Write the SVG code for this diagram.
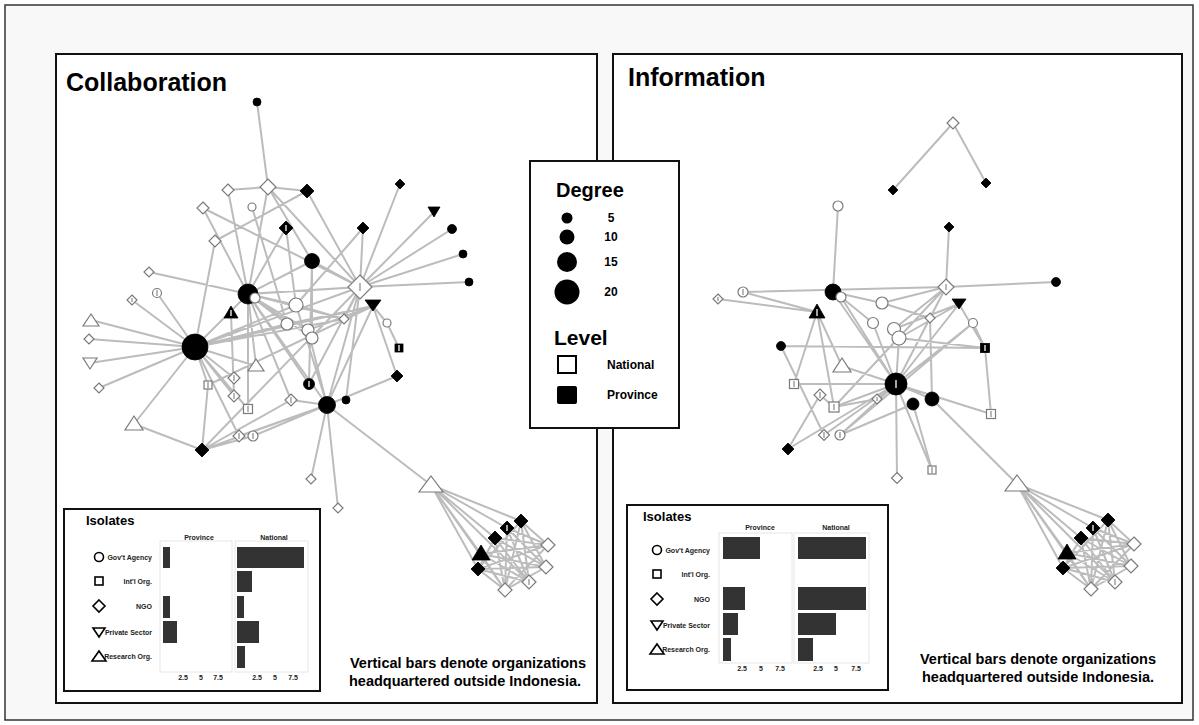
<svg xmlns="http://www.w3.org/2000/svg" width="1199" height="725" viewBox="0 0 1199 725">
<style>
.e{stroke:#bcbcbc;stroke-width:2;fill:none;stroke-linecap:round}
.w{fill:#fff;stroke:#7a7a7a;stroke-width:1.2}
.b{fill:#000;stroke:#000;stroke-width:0.8}
.hw{stroke:#888;stroke-width:1.2}
.hb{stroke:#fff;stroke-width:1.3}
.t{font-family:"Liberation Sans",Arial,sans-serif;font-weight:bold;fill:#000}
.lab{font-family:"Liberation Sans",Arial,sans-serif;font-weight:bold;fill:#222;font-size:7px}
.ic{fill:#fff;stroke:#000;stroke-width:1.6}
.bar{fill:#333}
.strip{fill:#fff;stroke:#e6e6e6;stroke-width:1}
.panel{fill:#fff;stroke:#111;stroke-width:2}
</style>
<rect x="5" y="5" width="1188" height="715" fill="#f8f8f8" stroke="#333" stroke-width="1.5"/>
<rect class="panel" x="56" y="54" width="541" height="649"/>
<rect class="panel" x="613" y="54" width="569" height="649"/>
<text class="t" x="66" y="91" font-size="25">Collaboration</text>
<text class="t" x="628" y="86" font-size="25">Information</text>

<g id="connectors">
<!-- left network -->
<path class="e" d="M257,102L268,187M268,187L228,190M268,187L307,191M268,187L248,294M268,187L312,261M268,187L360,287M228,190L248,294M307,191L215,241M307,191L360,287M203,208L360,287M203,208L248,294M252,207L287,324M286,228L248,294M286,228L296,305M215,241L195,347M400,184L360,287M434,212L360,287M452,229L360,287M463,254L360,287M469,282L360,287M363,228L360,287M363,228L296,305M312,261L248,294M312,261L312,338M312,261L309,384M312,261L360,287M149,272L248,294M157,293L195,347M132,300L195,347M91,320L195,347M89,339L195,347M90,363L195,347M99,388L195,347M134,424L195,347M195,347L248,294M195,347L296,305M195,347L373,306M195,347L344,319M195,347L287,324M195,347L256,366M195,347L234,378M195,347L234,396M195,347L248,409M195,347L239,436M195,347L360,287M195,347L208,385M248,294L296,305M248,294L287,324M248,294L308,330M248,294L312,338M248,294L309,384M248,294L327,405M248,294L256,366M248,294L291,400M248,294L248,409M248,294L344,319M248,294L360,287M231,313L234,396M373,306L387,323M373,306L397,376M373,306L327,405M373,306L208,385M387,323L399,348M360,287L327,405M360,287L344,319M360,287L309,384M360,287L202,450M327,405L311,479M327,405L338,508M327,405L431,485M327,405L397,376M327,405L291,400M327,405L202,450M327,405L239,436M327,405L253,436M327,405L296,305M327,405L308,330M202,450L208,385M202,450L134,424M202,450L291,400M202,450L253,436M346,400L360,287M296,305L344,319M308,330L373,306M287,324L373,306"/>
<!-- left cluster -->
<path class="e" d="M431,485L521,521M431,485L507,528M431,485L495,538M431,485L481,554M431,485L478,569M431,485L505,590M431,485L529,582M521,521L548,545M521,521L546,567M521,521L529,582M521,521L505,590M507,528L548,545M507,528L546,567M507,528L529,582M507,528L505,590M495,538L548,545M495,538L546,567M495,538L529,582M495,538L505,590M481,554L548,545M481,554L546,567M481,554L529,582M481,554L505,590M478,569L548,545M478,569L546,567M478,569L529,582M478,569L505,590M521,521L478,569M495,538L478,569M548,545L505,590M546,567L505,590"/>
<!-- right network -->
<path class="e" d="M953,123L893,190M953,123L986,183M838,206L833,292M949,227L946,287M946,287L1056,282M743,292L946,287M718,299L817,312M743,292L817,312M833,292L882,303M833,292L896,384M841,297L896,384M841,297L873,323M946,287L930,318M946,287L894,329M946,287L896,384M946,287L882,303M946,287L834,407M959,304L985,348M985,348L991,414M781,346L985,348M781,346L824,435M817,312L794,384M817,312L834,407M817,312L842,366M794,384L896,384M788,449L820,395M788,449L896,384M824,435L896,384M840,435L896,384M840,435L913,404M896,384L897,478M896,384L932,470M896,384L932,399M896,384L991,414M896,384L973,323M896,384L959,304M896,384L930,318M896,384L899,338M896,384L873,323M896,384L842,366M896,384L877,399M896,384L834,407M932,399L1017,484M913,404L932,470M930,318L932,399M899,338L959,304M894,329L959,304M973,323L840,435M973,323L985,348M882,303L930,318M899,338L985,348M820,395L834,407M834,407L877,399"/>
<!-- right cluster -->
<path class="e" d="M1017,484L1108,520M1017,484L1093,528M1017,484L1081,538M1017,484L1067,553M1017,484L1063,568M1017,484L1091,589M1017,484L1115,582M1108,520L1134,544M1108,520L1131,566M1108,520L1115,582M1108,520L1091,589M1093,528L1134,544M1093,528L1131,566M1093,528L1115,582M1093,528L1091,589M1081,538L1134,544M1081,538L1131,566M1081,538L1115,582M1081,538L1091,589M1067,553L1134,544M1067,553L1131,566M1067,553L1115,582M1067,553L1091,589M1063,568L1134,544M1063,568L1131,566M1063,568L1115,582M1063,568L1091,589M1108,520L1063,568M1081,538L1063,568M1134,544L1091,589M1131,566L1091,589"/>
</g>

<!-- left nodes -->
<g id="L1"><circle class="b" cx="257" cy="102" r="4"/></g>
<g id="L2"><polygon class="w" points="268,179 276,187 268,195 260,187"/></g>
<g id="L3"><polygon class="w" points="228,184 234,190 228,196 222,190"/></g>
<g id="L4"><polygon class="b" points="307,184 314,191 307,198 300,191"/></g>
<g id="L5"><polygon class="w" points="203,202 209,208 203,214 197,208"/></g>
<g id="L6"><circle class="w" cx="252" cy="207" r="4"/></g>
<g id="L7"><polygon class="b" points="286,221 293,228 286,235 279,228"/><line class="hb" x1="286" y1="225" x2="286" y2="231"/></g>
<g id="L8"><polygon class="w" points="215,235 221,241 215,247 209,241"/></g>
<g id="L9"><polygon class="b" points="400,179 405,184 400,189 395,184"/></g>
<g id="L10"><polygon class="b" points="428,207 440,207 434,217"/></g>
<g id="L11"><circle class="b" cx="452" cy="229" r="4.5"/></g>
<g id="L12"><polygon class="b" points="363,222 369,228 363,234 357,228"/></g>
<g id="L13"><circle class="b" cx="463" cy="254" r="4"/></g>
<g id="L14"><circle class="b" cx="312" cy="261" r="7.5"/></g>
<g id="L15"><polygon class="w" points="149,267 154,272 149,277 144,272"/></g>
<g id="L16"><circle class="b" cx="469" cy="282" r="4"/></g>
<g id="L17"><polygon class="w" points="360,275 372,287 360,299 348,287"/><line class="hw" x1="360" y1="283" x2="360" y2="291"/></g>
<g id="L18"><circle class="w" cx="157" cy="293" r="4.5"/><line class="hw" x1="157" y1="290" x2="157" y2="296"/></g>
<g id="L19"><polygon class="w" points="132,295 137,300 132,305 127,300"/><line class="hw" x1="132" y1="298" x2="132" y2="302"/></g>
<g id="L20"><circle class="b" cx="248" cy="294" r="10"/></g>
<g id="L21"><circle class="w" cx="255" cy="298" r="5"/></g>
<g id="L22"><circle class="w" cx="296" cy="305" r="7"/></g>
<g id="L23"><polygon class="b" points="231,306 238,318 224,318"/><line class="hb" x1="231" y1="310" x2="231" y2="316"/></g>
<g id="L24"><polygon class="b" points="365,300 381,300 373,311"/></g>
<g id="L25"><polygon class="w" points="344,314 349,319 344,324 339,319"/></g>
<g id="L26"><circle class="w" cx="387" cy="323" r="4"/></g>
<g id="L27"><circle class="w" cx="287" cy="324" r="6"/></g>
<g id="L28"><circle class="w" cx="308" cy="330" r="6"/></g>
<g id="L29"><circle class="w" cx="312" cy="338" r="6"/></g>
<g id="L30"><rect class="b" x="395" y="344" width="8" height="8"/><line class="hb" x1="399" y1="345" x2="399" y2="351"/></g>
<g id="L31"><polygon class="w" points="91,314 99,326 83,326"/></g>
<g id="L32"><polygon class="w" points="89,334 94,339 89,344 84,339"/></g>
<g id="L33"><polygon class="w" points="83,358 97,358 90,369"/></g>
<g id="L34"><polygon class="w" points="99,383 104,388 99,393 94,388"/></g>
<g id="L35"><circle class="b" cx="195" cy="347" r="13"/></g>
<g id="L36"><polygon class="w" points="256,359 264,371 248,371"/></g>
<g id="L37"><rect class="w" x="204" y="381" width="8" height="8"/><line class="hw" x1="208" y1="382" x2="208" y2="388"/></g>
<g id="L38"><polygon class="w" points="234,372 240,378 234,384 228,378"/><line class="hw" x1="234" y1="375" x2="234" y2="381"/></g>
<g id="L39"><circle class="b" cx="309" cy="384" r="5.5"/><line class="hb" x1="309" y1="381" x2="309" y2="387"/></g>
<g id="L40"><polygon class="b" points="397,370 403,376 397,382 391,376"/></g>
<g id="L41"><polygon class="w" points="234,390 240,396 234,402 228,396"/><line class="hw" x1="234" y1="393" x2="234" y2="399"/></g>
<g id="L42"><rect class="w" x="243.5" y="404.5" width="9" height="9"/><line class="hw" x1="248" y1="406" x2="248" y2="412"/></g>
<g id="L43"><polygon class="w" points="291,394 297,400 291,406 285,400"/><line class="hw" x1="291" y1="397" x2="291" y2="403"/></g>
<g id="L44"><circle class="b" cx="327" cy="405" r="8.5"/></g>
<g id="L45"><circle class="b" cx="346" cy="400" r="4"/></g>
<g id="L46"><polygon class="w" points="134,416 143,430 125,430"/></g>
<g id="L47"><polygon class="b" points="202,443 209,450 202,457 195,450"/></g>
<g id="L48"><polygon class="w" points="239,430 245,436 239,442 233,436"/><line class="hw" x1="239" y1="433" x2="239" y2="439"/></g>
<g id="L49"><circle class="w" cx="253" cy="436" r="5"/><line class="hw" x1="253" y1="433" x2="253" y2="439"/></g>
<g id="L50"><polygon class="w" points="311,474 316,479 311,484 306,479"/></g>
<g id="L51"><polygon class="w" points="338,503 343,508 338,513 333,508"/></g>
<g id="L52"><polygon class="w" points="431,476 443,492 419,492"/></g>
<g id="LC1"><polygon class="b" points="521,514 528,521 521,528 514,521"/></g>
<g id="LC2"><polygon class="b" points="507,521 514,528 507,535 500,528"/><line class="hb" x1="507" y1="525" x2="507" y2="531"/></g>
<g id="LC3"><polygon class="b" points="495,531 502,538 495,545 488,538"/></g>
<g id="LC4"><polygon class="w" points="548,538 555,545 548,552 541,545"/></g>
<g id="LC5"><polygon class="b" points="481,545 490,560 472,560"/></g>
<g id="LC6"><polygon class="b" points="478,562 485,569 478,576 471,569"/></g>
<g id="LC7"><polygon class="w" points="546,560 553,567 546,574 539,567"/></g>
<g id="LC8"><polygon class="w" points="529,575 536,582 529,589 522,582"/><line class="hw" x1="529" y1="579" x2="529" y2="585"/></g>
<g id="LC9"><polygon class="w" points="505,583 512,590 505,597 498,590"/></g>

<!-- right nodes -->
<g id="R1"><polygon class="w" points="953,117 959,123 953,129 947,123"/></g>
<g id="R2"><polygon class="b" points="893,185 898,190 893,195 888,190"/></g>
<g id="R3"><polygon class="b" points="986,178 991,183 986,188 981,183"/></g>
<g id="R4"><circle class="w" cx="838" cy="206" r="5"/></g>
<g id="R5"><polygon class="b" points="949,222 954,227 949,232 944,227"/></g>
<g id="R6"><polygon class="w" points="946,279 954,287 946,295 938,287"/><line class="hw" x1="946" y1="284" x2="946" y2="290"/></g>
<g id="R7"><circle class="b" cx="1056" cy="282" r="4.5"/></g>
<g id="R8"><polygon class="w" points="718,294 723,299 718,304 713,299"/><line class="hw" x1="718" y1="297" x2="718" y2="301"/></g>
<g id="R9"><circle class="w" cx="743" cy="292" r="5"/><line class="hw" x1="743" y1="289" x2="743" y2="295"/></g>
<g id="R10"><circle class="b" cx="833" cy="292" r="8"/></g>
<g id="R11"><circle class="w" cx="841" cy="297" r="5"/></g>
<g id="R12"><circle class="w" cx="882" cy="303" r="6"/></g>
<g id="R13"><polygon class="b" points="952,299 966,299 959,309"/></g>
<g id="R14"><polygon class="b" points="817,304 825,318 809,318"/><line class="hb" x1="817" y1="309" x2="817" y2="316"/></g>
<g id="R15"><polygon class="w" points="930,313 935,318 930,323 925,318"/></g>
<g id="R16"><circle class="w" cx="973" cy="323" r="4.5"/></g>
<g id="R17"><circle class="w" cx="873" cy="323" r="5.5"/></g>
<g id="R18"><circle class="w" cx="894" cy="329" r="6.5"/></g>
<g id="R19"><circle class="w" cx="899" cy="338" r="7"/></g>
<g id="R20"><circle class="b" cx="781" cy="346" r="4.5"/></g>
<g id="R21"><rect class="b" x="980.5" y="343.5" width="9" height="9"/><line class="hb" x1="985" y1="345" x2="985" y2="351"/></g>
<g id="R22"><polygon class="w" points="842,358 851,372 833,372"/></g>
<g id="R23"><circle class="b" cx="896" cy="384" r="11"/><line class="hb" x1="896" y1="380" x2="896" y2="388"/></g>
<g id="R24"><rect class="w" x="789.5" y="379.5" width="9" height="9"/><line class="hw" x1="794" y1="381" x2="794" y2="387"/></g>
<g id="R25"><polygon class="w" points="820,389 826,395 820,401 814,395"/><line class="hw" x1="820" y1="392" x2="820" y2="398"/></g>
<g id="R26"><rect class="w" x="829" y="402" width="10" height="10"/><line class="hw" x1="834" y1="404" x2="834" y2="410"/></g>
<g id="R27"><polygon class="w" points="877,394 882,399 877,404 872,399"/><line class="hw" x1="877" y1="397" x2="877" y2="401"/></g>
<g id="R28"><circle class="b" cx="913" cy="404" r="6"/></g>
<g id="R29"><circle class="b" cx="932" cy="399" r="7"/></g>
<g id="R30"><rect class="w" x="986.5" y="409.5" width="9" height="9"/><line class="hw" x1="991" y1="411" x2="991" y2="417"/></g>
<g id="R31"><polygon class="w" points="824,429.5 829.5,435 824,440.5 818.5,435"/><line class="hw" x1="824" y1="432" x2="824" y2="438"/></g>
<g id="R32"><circle class="w" cx="840" cy="435" r="5"/><line class="hw" x1="840" y1="432" x2="840" y2="438"/></g>
<g id="R33"><polygon class="b" points="788,443 794,449 788,455 782,449"/></g>
<g id="R34"><rect class="w" x="928" y="466" width="8" height="8"/><line class="hw" x1="932" y1="467" x2="932" y2="473"/></g>
<g id="R35"><polygon class="w" points="897,472.5 902.5,478 897,483.5 891.5,478"/></g>
<g id="R36"><polygon class="w" points="1017,475 1029,491 1005,491"/></g>
<g id="RC1"><polygon class="b" points="1108,513 1115,520 1108,527 1101,520"/></g>
<g id="RC2"><polygon class="b" points="1093,521 1100,528 1093,535 1086,528"/><line class="hb" x1="1093" y1="525" x2="1093" y2="531"/></g>
<g id="RC3"><polygon class="b" points="1081,531 1088,538 1081,545 1074,538"/></g>
<g id="RC4"><polygon class="w" points="1134,537 1141,544 1134,551 1127,544"/></g>
<g id="RC5"><polygon class="b" points="1067,544 1076,559 1058,559"/></g>
<g id="RC6"><polygon class="b" points="1063,561 1070,568 1063,575 1056,568"/></g>
<g id="RC7"><polygon class="w" points="1131,559 1138,566 1131,573 1124,566"/></g>
<g id="RC8"><polygon class="w" points="1115,575 1122,582 1115,589 1108,582"/><line class="hw" x1="1115" y1="579" x2="1115" y2="585"/></g>
<g id="RC9"><polygon class="w" points="1091,582 1098,589 1091,596 1084,589"/></g>

<!-- legend -->
<g id="legend">
<rect x="530" y="161" width="149" height="267" fill="#fff" stroke="#111" stroke-width="2"/>
<text class="t" x="556" y="197" font-size="20">Degree</text>
<circle cx="567" cy="218" r="5.5" fill="#000"/>
<circle cx="567" cy="237" r="7.5" fill="#000"/>
<circle cx="567" cy="262" r="10" fill="#000"/>
<circle cx="567" cy="292" r="12.5" fill="#000"/>
<text class="t" x="611" y="222" font-size="12" text-anchor="middle">5</text>
<text class="t" x="611" y="241" font-size="12" text-anchor="middle">10</text>
<text class="t" x="611" y="266" font-size="12" text-anchor="middle">15</text>
<text class="t" x="611" y="296" font-size="12" text-anchor="middle">20</text>
<text class="t" x="554" y="345" font-size="21">Level</text>
<rect x="558" y="356" width="18" height="17" fill="#fff" stroke="#000" stroke-width="2"/>
<rect x="557" y="386" width="20" height="18" rx="2" fill="#000"/>
<text class="t" x="607" y="369" font-size="12">National</text>
<text class="t" x="607" y="399" font-size="12">Province</text>
</g>

<!-- left isolates -->
<g id="isolates-left">
<rect x="64" y="509" width="256" height="182" fill="#fff" stroke="#111" stroke-width="2"/>
<text class="t" x="86" y="525" font-size="13">Isolates</text>
<text class="lab" x="199" y="540" text-anchor="middle">Province</text>
<text class="lab" x="274" y="540" text-anchor="middle">National</text>
<rect class="strip" x="160" y="541" width="72" height="131"/>
<rect class="strip" x="235" y="541" width="73" height="131"/>
<circle class="ic" cx="99" cy="557" r="4.5"/>
<rect class="ic" x="95" y="577" width="8" height="8"/>
<polygon class="ic" points="99,600 105,606 99,612 93,606"/>
<polygon class="ic" points="93,628 105,628 99,637"/>
<polygon class="ic" points="99,651 106,661 92,661"/>
<text class="lab" x="152" y="560" text-anchor="end">Gov't Agency</text>
<text class="lab" x="152" y="584" text-anchor="end">Int'l Org.</text>
<text class="lab" x="152" y="609" text-anchor="end">NGO</text>
<text class="lab" x="152" y="635" text-anchor="end">Private Sector</text>
<text class="lab" x="152" y="659" text-anchor="end">Research Org.</text>
<rect class="bar" x="163" y="547" width="7" height="21"/>
<rect class="bar" x="163" y="596" width="7" height="22"/>
<rect class="bar" x="163" y="621" width="14" height="22"/>
<rect class="bar" x="237" y="547" width="67" height="21"/>
<rect class="bar" x="237" y="571" width="15" height="21"/>
<rect class="bar" x="237" y="596" width="7" height="22"/>
<rect class="bar" x="237" y="621" width="22" height="22"/>
<rect class="bar" x="237" y="646" width="8" height="22"/>
<text class="lab" x="183" y="680" text-anchor="middle">2.5</text>
<text class="lab" x="201" y="680" text-anchor="middle">5</text>
<text class="lab" x="218" y="680" text-anchor="middle">7.5</text>
<text class="lab" x="257" y="680" text-anchor="middle">2.5</text>
<text class="lab" x="275" y="680" text-anchor="middle">5</text>
<text class="lab" x="293" y="680" text-anchor="middle">7.5</text>
</g>
<text class="t" x="468" y="668" font-size="14.5" text-anchor="middle">Vertical bars denote organizations</text>
<text class="t" x="465" y="686" font-size="14.5" text-anchor="middle">headquartered outside Indonesia.</text>

<!-- right isolates -->
<g id="isolates-right">
<rect x="627" y="505" width="261" height="185" fill="#fff" stroke="#111" stroke-width="2"/>
<text class="t" x="643" y="521" font-size="13">Isolates</text>
<text class="lab" x="760" y="530" text-anchor="middle">Province</text>
<text class="lab" x="836" y="530" text-anchor="middle">National</text>
<rect class="strip" x="719" y="533" width="73" height="130"/>
<rect class="strip" x="794" y="533" width="75" height="130"/>
<circle class="ic" cx="657" cy="550" r="4.5"/>
<rect class="ic" x="653" y="570" width="8" height="8"/>
<polygon class="ic" points="657,593 663,599 657,605 651,599"/>
<polygon class="ic" points="651,621 663,621 657,630"/>
<polygon class="ic" points="657,644 664,654 650,654"/>
<text class="lab" x="710" y="553" text-anchor="end">Gov't Agency</text>
<text class="lab" x="710" y="577" text-anchor="end">Int'l Org.</text>
<text class="lab" x="710" y="602" text-anchor="end">NGO</text>
<text class="lab" x="710" y="628" text-anchor="end">Private Sector</text>
<text class="lab" x="710" y="652" text-anchor="end">Research Org.</text>
<rect class="bar" x="723" y="537" width="37" height="22"/>
<rect class="bar" x="723" y="587" width="22" height="23"/>
<rect class="bar" x="723" y="613" width="15" height="22"/>
<rect class="bar" x="723" y="638" width="8" height="23"/>
<rect class="bar" x="798" y="537" width="68" height="22"/>
<rect class="bar" x="798" y="587" width="68" height="23"/>
<rect class="bar" x="798" y="613" width="38" height="22"/>
<rect class="bar" x="798" y="638" width="15" height="23"/>
<text class="lab" x="742" y="671" text-anchor="middle">2.5</text>
<text class="lab" x="761" y="671" text-anchor="middle">5</text>
<text class="lab" x="780" y="671" text-anchor="middle">7.5</text>
<text class="lab" x="818" y="671" text-anchor="middle">2.5</text>
<text class="lab" x="836" y="671" text-anchor="middle">5</text>
<text class="lab" x="856" y="671" text-anchor="middle">7.5</text>
</g>
<text class="t" x="1038" y="664" font-size="14.5" text-anchor="middle">Vertical bars denote organizations</text>
<text class="t" x="1038" y="682" font-size="14.5" text-anchor="middle">headquartered outside Indonesia.</text>
</svg>
